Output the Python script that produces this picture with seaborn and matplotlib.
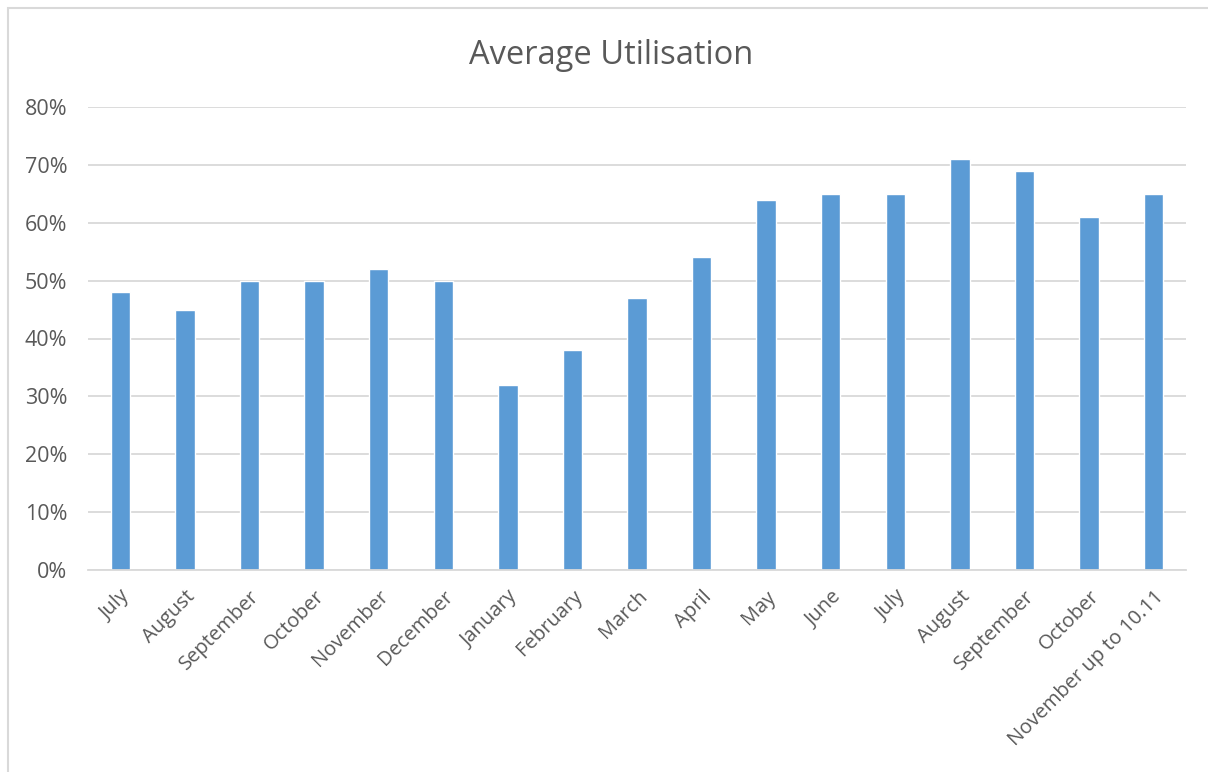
import matplotlib
matplotlib.use("Agg")
from matplotlib import pyplot as plt
from matplotlib.patches import Rectangle
from matplotlib.ticker import PercentFormatter
import seaborn as sns
import pandas as pd

months = ["July", "August", "September", "October", "November", "December",
          "January", "February", "March", "April", "May", "June", "July",
          "August", "September", "October", "November up to 10.11"]
utilisation = [0.48, 0.45, 0.50, 0.50, 0.52, 0.50, 0.32, 0.38, 0.47, 0.54,
               0.64, 0.65, 0.65, 0.71, 0.69, 0.61, 0.65]
yticks = [0, 0.1, 0.2, 0.3, 0.4, 0.5, 0.6, 0.7, 0.8]

df = pd.DataFrame({"pos": range(len(months)), "month": months, "value": utilisation})

sns.set_style("white")
plt.rcParams['font.family'] = ['Open Sans', 'DejaVu Sans']
text_col = "#595959"
grid_col = "#d9d9d9"

fig = plt.figure(figsize=(12.08, 7.72), dpi=100)
ax = fig.add_axes([88/1208, 1 - 570/772, (1186-88)/1208, (570-107)/772])

sns.barplot(data=df, x="pos", y="value", color="#5b9bd5", width=0.3,
            saturation=1, ax=ax)

ax.set_ylim(0, 0.8)
ax.set_xlim(-0.5, len(months) - 0.5)
ax.set_yticks(yticks)
ax.yaxis.set_major_formatter(PercentFormatter(1.0, decimals=0))
ax.set_xticks(range(len(months)))
ax.set_xticklabels(months, rotation=45, ha="right", rotation_mode="anchor")
ax.tick_params(axis="both", length=0, colors=text_col)
ax.tick_params(axis="y", pad=15, labelsize=15.5)
ax.tick_params(axis="x", pad=12, labelsize=14.5)
ax.set_axisbelow(True)
ax.yaxis.grid(True, color=grid_col, linewidth=1.3)
for side in ["top", "right", "left"]:
    ax.spines[side].set_visible(False)
ax.spines["bottom"].set_color(grid_col)
ax.spines["bottom"].set_linewidth(1.3)
ax.set_xlabel("")
ax.set_ylabel("")

fig.text(611/1208, 1 - 56/772, "Average Utilisation", ha="center", va="center",
         fontsize=23.5, color=text_col)

# chart frame like in the spreadsheet export
fig.patches.append(Rectangle((8/1208, -0.05), 1.1, 1 - 8/772 + 0.05,
                             transform=fig.transFigure, fill=False,
                             edgecolor="#d9d9d9", linewidth=1.5))

fig.savefig("out.png", dpi=100)
